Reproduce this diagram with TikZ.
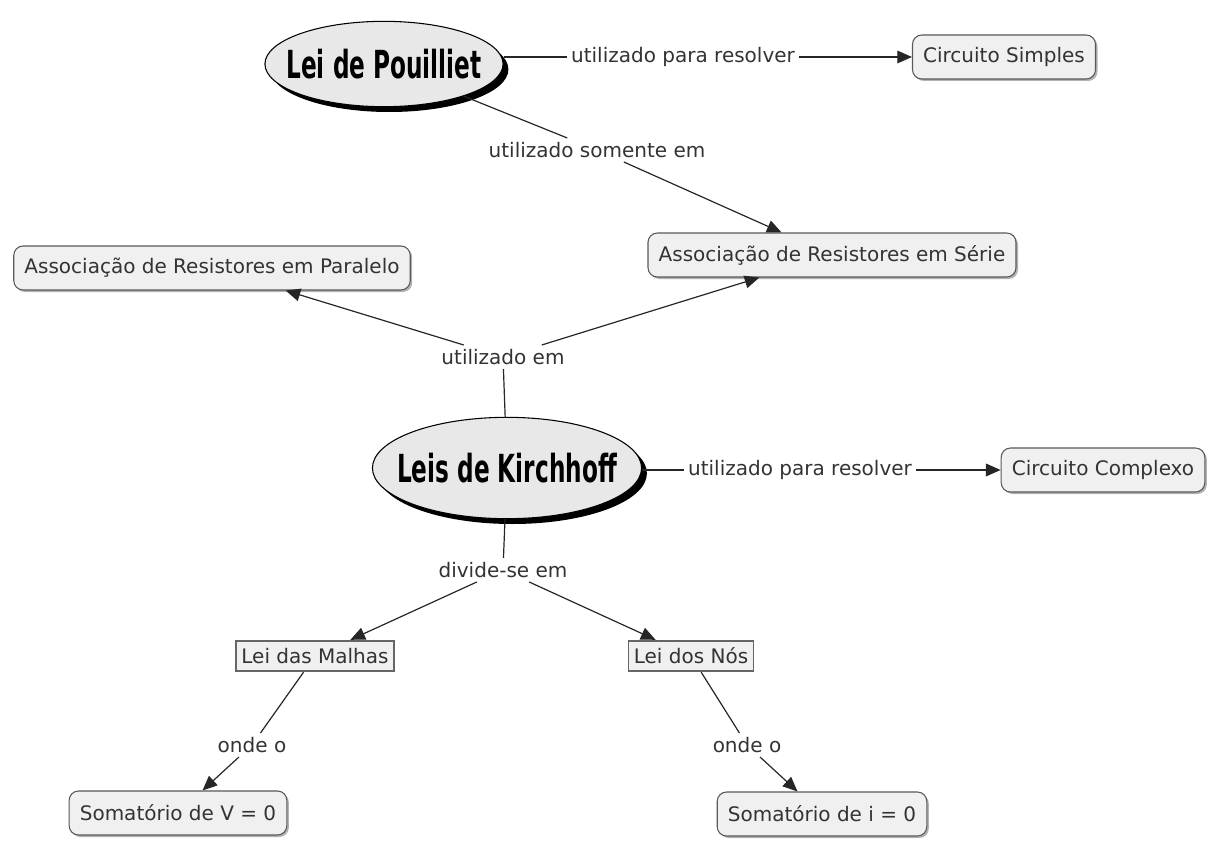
\documentclass[tikz,border=0pt]{standalone}
\usepackage{fontspec}
\setmainfont{DejaVu Sans}
\usetikzlibrary{arrows.meta,shapes.geometric,shadows}
\tikzset{>={Triangle[length=11pt,width=9.5pt]}}
\definecolor{boxfill}{HTML}{F0F0F0}
\definecolor{ovalfill}{HTML}{E8E8E8}
\definecolor{txtgray}{HTML}{333333}
\tikzset{
  oval/.style={ellipse, draw, line width=0.8pt, fill=ovalfill, inner ysep=0pt,
    drop shadow={shadow xshift=4pt, shadow yshift=-4pt, fill=black, opacity=1}},
  concept/.style={rectangle, rounded corners=7pt, draw=black!65, line width=0.8pt,
    fill=boxfill, text=txtgray, font=\fontsize{15}{17}\selectfont,
    minimum height=33pt, inner xsep=8pt,
    drop shadow={shadow xshift=1.5pt, shadow yshift=-1.5pt, fill=black!30, opacity=1}},
  lawbox/.style={rectangle, draw=black!60, line width=1.3pt, fill=boxfill,
    text=txtgray, font=\fontsize{15}{17}\selectfont, minimum height=23pt, inner xsep=4pt},
  link/.style={text=txtgray, font=\fontsize{15}{17}\selectfont, inner sep=3pt},
  conn/.style={line width=0.9pt, black!85}
}
\newcommand*{\bigtitle}[1]
  {\scalebox{0.6}[1]{\fontsize{29}{30}\selectfont\bfseries #1}}

\begin{document}
\begin{tikzpicture}[x=0.75pt,y=-0.75pt]
\useasboundingbox (0,0) rectangle (1217,863);
% concepts
\node[oval, inner xsep=-10pt, minimum height=64pt] (pouilliet) at (384,64) {\bigtitle{Lei de Pouilliet}};
\node[oval, inner xsep=-11pt, minimum height=76pt] (kirchhoff) at (507,468) {\bigtitle{Leis de Kirchhoff}};
\node[concept] (simples) at (1004,57) {Circuito Simples};
\node[concept] (serie) at (832,255) {Associação de Resistores em Série};
\node[concept] (paralelo) at (212,268) {Associação de Resistores em Paralelo};
\node[concept] (complexo) at (1103,470) {Circuito Complexo};
\node[lawbox] (malhas) at (315,656) {Lei das Malhas};
\node[lawbox] (nos) at (691,656) {Lei dos Nós};
\node[concept] (somav) at (178,813) {Somatório de V = 0};
\node[concept] (somai) at (822,814) {Somatório de i = 0};
% link phrases
\node[link] (resolveA) at (683,57) {utilizado para resolver};
\node[link] (somente) at (597,150) {utilizado somente em};
\node[link] (usado) at (503,357) {utilizado em};
\node[link] (resolveB) at (800,470) {utilizado para resolver};
\node[link] (divide) at (503,570) {divide-se em};
\node[link] (ondeA) at (252,745) {onde o};
\node[link] (ondeB) at (747,745) {onde o};
% connectors
\draw[conn] (pouilliet.east |- resolveA) -- (resolveA);
\draw[conn,->] (resolveA) -- (simples);
\draw[conn] (pouilliet) -- (somente);
\draw[conn,->] (somente) -- (serie);
\draw[conn] (kirchhoff) -- (usado);
\draw[conn,->] (usado) -- (paralelo);
\draw[conn,->] (usado) -- (serie);
\draw[conn] (kirchhoff.east |- resolveB) -- (resolveB);
\draw[conn,->] (resolveB) -- (complexo);
\draw[conn] (kirchhoff) -- (divide);
\draw[conn,->] (divide) -- (malhas);
\draw[conn,->] (divide) -- (nos);
\draw[conn] (malhas) -- (ondeA);
\draw[conn,->] (ondeA) -- (somav);
\draw[conn] (nos) -- (ondeB);
\draw[conn,->] (ondeB) -- (somai);
\end{tikzpicture}
\end{document}
